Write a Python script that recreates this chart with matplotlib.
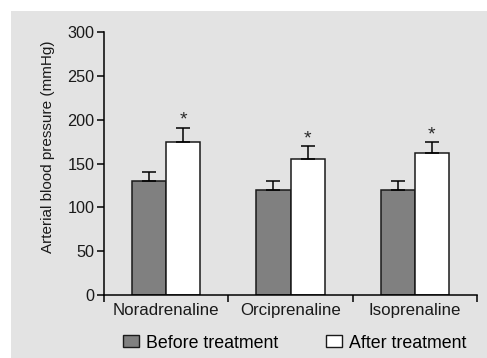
import matplotlib
matplotlib.use("Agg")
import matplotlib.pyplot as plt
from matplotlib.patches import Rectangle, Patch
import numpy as np

plt.rcParams['font.family'] = ['Liberation Sans', 'DejaVu Sans']

categories = ["Noradrenaline", "Orciprenaline", "Isoprenaline"]
before = [130, 120, 120]
before_err = [10, 10, 10]
after = [175, 155, 162]
after_err = [16, 15, 12]
yticks = [0, 50, 100, 150, 200, 250, 300]

W, H = 487, 358
fig = plt.figure(figsize=(W / 100, H / 100), dpi=100)
fig.patch.set_facecolor('white')
fig.patches.append(Rectangle((11 / W, 0), 1 - 11 / W, 1 - 11 / H,
                             transform=fig.transFigure, facecolor='#e3e3e3',
                             edgecolor='none', zorder=-10))

ax = fig.add_axes([104 / W, 1 - 295 / H, (477 - 104) / W, (295 - 32) / H])
ax.set_facecolor('none')

x = np.arange(len(categories))
bw = 0.274
ax.bar(x - bw / 2, before, bw, color='#808080', edgecolor='#1a1a1a', linewidth=1.1, zorder=2)
ax.bar(x + bw / 2, after, bw, color='white', edgecolor='#1a1a1a', linewidth=1.1, zorder=2)
ax.errorbar(x - bw / 2, before, yerr=[[0] * 3, before_err], fmt='none', ecolor='black',
            elinewidth=1.1, capsize=5, capthick=1.1, zorder=3)
ax.errorbar(x + bw / 2, after, yerr=[[0] * 3, after_err], fmt='none', ecolor='black',
            elinewidth=1.1, capsize=5, capthick=1.1, zorder=3)
for xi, v, e in zip(x, after, after_err):
    ax.annotate('*', (xi + bw / 2, v + e), xytext=(0, -1), textcoords='offset points',
                ha='center', va='bottom', fontsize=14, color='#2a2a2a')

ax.set_xlim(-0.5, 2.5)
ax.set_ylim(0, 300)
ax.set_yticks(yticks)
ax.set_xticks([-0.5, 0.5, 1.5, 2.5])
ax.set_xticklabels([])
ax.set_xticks(x, minor=True)
ax.set_xticklabels(categories, minor=True, fontsize=12.2, color='#1a1a1a')
ax.tick_params(axis='x', which='minor', length=0, pad=6)
ax.tick_params(axis='x', which='major', length=5, width=1.1, direction='out')
ax.tick_params(axis='y', length=5, width=1.1, labelsize=11.7, labelcolor='#1a1a1a', pad=2)
for s in ['top', 'right']:
    ax.spines[s].set_visible(False)
for s in ['left', 'bottom']:
    ax.spines[s].set_linewidth(1.1)
ax.set_ylabel('Arterial blood pressure (mmHg)', fontsize=11, color='#1a1a1a')
ax.yaxis.set_label_coords(-0.131, 0.563)

handles = [Patch(facecolor='#808080', edgecolor='#1a1a1a', linewidth=1.0, label='Before treatment'),
           Patch(facecolor='white', edgecolor='#1a1a1a', linewidth=1.0, label='After treatment')]
fig.legend(handles=handles, loc='center', bbox_to_anchor=(294.5 / W, 1 - 343 / H), ncol=2,
           frameon=False, fontsize=12.8, handlelength=0.9, handleheight=0.62,
           handletextpad=0.4, columnspacing=2.7, borderaxespad=0, borderpad=0)

fig.savefig('out.png', dpi=100, facecolor='white')
